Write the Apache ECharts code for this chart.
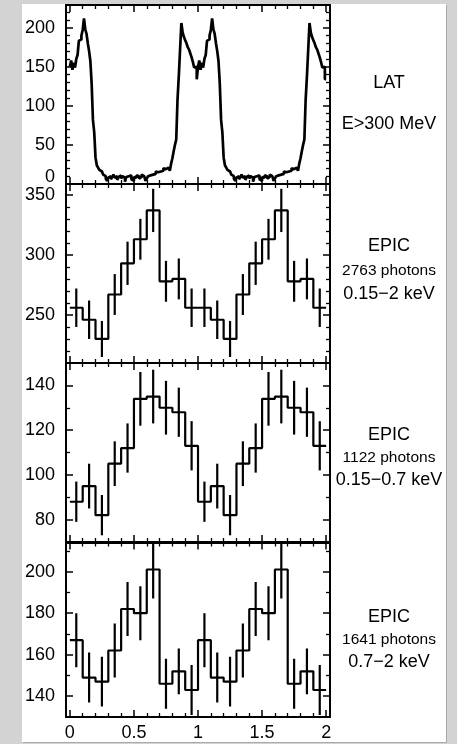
<!DOCTYPE html>
<html><head><meta charset="utf-8">
<script src="https://cdn.jsdelivr.net/npm/echarts@6.0.0/dist/echarts.min.js"></script>
<style>
html,body{margin:0;padding:0;background:#d3d3d3;width:457px;height:744px;overflow:hidden}
#panel{position:absolute;left:22px;top:4px;width:424px;height:738px;background:#fff;box-shadow:1px 1px 0 #a9a9a9}
#chart{width:424px;height:738px}
</style></head><body><div id="panel"><div id="chart"></div></div>
<script>
// ---- DATA ----
// LAT (E>300 MeV) light curve: one rotation cycle, 100 phase bins of width 0.01 (shown twice)
const latBinWidth = 0.01;
const latCycle = [
  150,158,146,155,149,160,165,183,185,190,
  197,212,198,192,180,170,157,128,82,66,
  34,24,21,18,16,14,12,10,7,4,
  8,10,6,9,12,8,10,5,9,11,
  7,10,8,3,9,10,8,11,6,4,
  9,8,11,10,7,9,12,10,8,4,
  7,10,11,13,12,14,13,16,15,17,
  16,18,17,20,19,18,21,19,17,26,
  33,42,50,57,108,138,172,206,194,188,
  184,180,175,172,167,162,156,149,150,134
];
// EPIC: 10 phase bins of width 0.1 per cycle (shown twice)
const epicBinWidth = 0.1;
const epicTotal    = [256,246,230,267,293,313,337,278,280,256];
const epicTotalErr = [16,16,15,17,18,17,18,17,17,16];
const epicSoft     = [88,95,82,105,112,134,135,130,128,113];
const epicSoftErr  = [9,10,9,10,11,12,12,12,11,11];
const epicHard     = [167,149,147,162,182,180,201,146,152,143];
const epicHardErr  = [13,12,12,13,13,13,14,12,11,12];
const nCycles = 2;
const panelLabels = [
  ["LAT", "E>300 MeV"],
  ["EPIC", "2763 photons", "0.15\u22122 keV"],
  ["EPIC", "1122 photons", "0.15\u22120.7 keV"],
  ["EPIC", "1641 photons", "0.7\u22122 keV"]
];
const yRanges = [[0, 229], [210, 359], [70, 150], [130, 214]];
const ySplit = [5, 3, 4, 4];
const yMinor = [5, 5, 2, 2];
const xRange = [-0.03, 2.03];

// ---- BUILD ----
function stepData(vals, w) {
  const out = [];
  for (let c = 0; c < nCycles; c++) {
    vals.forEach((v, i) => out.push([+(c + i * w).toFixed(4), v]));
  }
  out.push([nCycles, vals[vals.length - 1]]);
  return out;
}
function errData(vals, errs, w) {
  const out = [];
  for (let c = 0; c < nCycles; c++) {
    vals.forEach((v, i) => out.push([+(c + (i + 0.5) * w).toFixed(4), v, errs[i]]));
  }
  return out;
}
const FONT = '"Liberation Sans", Arial, Helvetica, sans-serif';
const gridTops = [1, 180, 359, 538.5];
const gridH = 179;
const grids = gridTops.map(t => ({left: 42.5, width: 265.5, top: t, height: gridH, show: false}));

const black = '#000';
function xAx(g, pos, showLabel) {
  return {
    type: 'value', gridIndex: g, position: pos, min: xRange[0], max: xRange[1], splitNumber: 4,
    axisLine: {show: true, onZero: false, lineStyle: {color: black, width: 2}},
    axisTick: {show: true, inside: true, length: 7, lineStyle: {color: black, width: 1.5}},
    minorTick: {show: true, splitNumber: 5, length: 4, lineStyle: {color: black, width: 1.3}},
    splitLine: {show: false},
    axisLabel: {show: showLabel, showMinLabel: false, showMaxLabel: false, color: black, fontSize: 18, fontFamily: FONT, margin: 7}
  };
}
function yAx(g, pos, showLabel) {
  const lbl = {show: showLabel, showMinLabel: g === 0, showMaxLabel: false, color: black, fontSize: 18, fontFamily: FONT, margin: 11};
  if (g === 0) {
    lbl.formatter = v => v === 0 ? '{z|0}' : String(v);
    lbl.rich = {z: {fontSize: 18, fontFamily: FONT, color: black, padding: [0, 0, 14, 0]}};
  }
  return {
    type: 'value', gridIndex: g, position: pos, min: yRanges[g][0], max: yRanges[g][1], splitNumber: ySplit[g],
    axisLine: {show: true, onZero: false, lineStyle: {color: black, width: 2}},
    axisTick: {show: true, inside: true, length: 7, lineStyle: {color: black, width: 1.5}},
    minorTick: {show: true, splitNumber: yMinor[g], length: 4, lineStyle: {color: black, width: 1.3}},
    splitLine: {show: false},
    axisLabel: lbl
  };
}
const xAxes = [], yAxes = [];
for (let g = 0; g < 4; g++) {
  xAxes.push(xAx(g, 'bottom', g === 3));
  xAxes.push(xAx(g, 'top', false));
  yAxes.push(yAx(g, 'left', true));
  yAxes.push(yAx(g, 'right', false));
}
function errSeries(g, data) {
  return {
    type: 'custom', xAxisIndex: 2 * g, yAxisIndex: 2 * g, clip: true, silent: true,
    encode: {x: 0, y: 1},
    renderItem: (params, api) => {
      const x = api.value(0), y = api.value(1), e = api.value(2);
      const p1 = api.coord([x, y - e]), p2 = api.coord([x, y + e]);
      return {type: 'line', shape: {x1: p1[0], y1: p1[1], x2: p2[0], y2: p2[1]},
              style: {stroke: black, lineWidth: 2.2}};
    },
    data: data
  };
}
function stepSeries(g, data, w) {
  return {type: 'line', xAxisIndex: 2 * g, yAxisIndex: 2 * g, step: 'end', showSymbol: false, symbol: 'none',
          silent: true, clip: true, lineStyle: {color: black, width: w}, data: data};
}
const series = [
  stepSeries(0, stepData(latCycle, latBinWidth), 2.7),
  stepSeries(1, stepData(epicTotal, epicBinWidth), 2.2),
  errSeries(1, errData(epicTotal, epicTotalErr, epicBinWidth)),
  stepSeries(2, stepData(epicSoft, epicBinWidth), 2.2),
  errSeries(2, errData(epicSoft, epicSoftErr, epicBinWidth)),
  stepSeries(3, stepData(epicHard, epicBinWidth), 2.2),
  errSeries(3, errData(epicHard, epicHardErr, epicBinWidth))
];

const labelY = [[79, 120], [242, 267, 290], [431, 454, 476], [613, 636, 658]];
const graphics = [];
panelLabels.forEach((lines, g) => {
  lines.forEach((t, j) => {
    const small = /photons/.test(t);
    graphics.push({type: 'text', x: 367, y: labelY[g][j], silent: true,
      style: {text: t, fill: black, fontSize: small ? 15.5 : 18, fontFamily: FONT, align: 'center', verticalAlign: 'middle'}});
  });
});

const chart = echarts.init(document.getElementById('chart'), null, {renderer: 'canvas'});
chart.setOption({
  animation: false,
  backgroundColor: '#fff',
  grid: grids,
  xAxis: xAxes,
  yAxis: yAxes,
  series: series,
  graphic: graphics
});
</script></body></html>
